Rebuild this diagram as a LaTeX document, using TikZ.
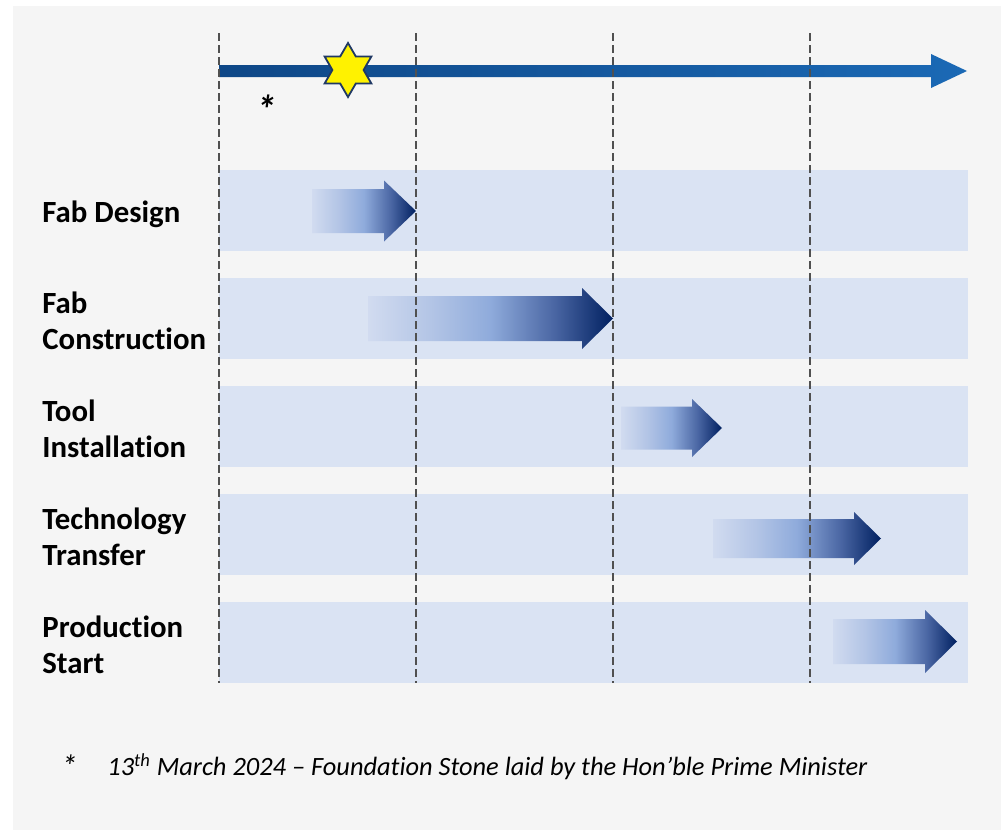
\documentclass[tikz,border=0pt]{standalone}
\usepackage{fontspec}
\setmainfont{Carlito}[Ligatures = NoCommon]
\usepackage{xcolor}
\usetikzlibrary{shapes.geometric}

\definecolor{panelgray}{HTML}{F5F5F5}
\definecolor{bandblue}{HTML}{DAE3F3}
\definecolor{tlleft}{HTML}{0E4787}
\definecolor{tlright}{HTML}{1B69B5}
\definecolor{starline}{HTML}{1F3864}
\definecolor{gridgray}{HTML}{505050}

\pgfdeclarehorizontalshading{phaseshade}{100bp}{rgb(0bp)=(0.84,0.87,0.94); rgb(25bp)=(0.82,0.86,0.94); rgb(38bp)=(0.70,0.77,0.90); rgb(50bp)=(0.56,0.67,0.86); rgb(63bp)=(0.29,0.40,0.64); rgb(75bp)=(0,0.125,0.376); rgb(100bp)=(0,0.125,0.376)}

\tikzset{
	gridline/.style = {gridgray, line width = 0.6pt, dash pattern = on 4pt off 2pt},
	rowlabel/.style = {anchor = west, inner sep = 0pt, align = left, font = \fontsize{15.4}{18}\selectfont\bfseries},
	notetext/.style = {anchor = base west, inner sep = 0pt, font = \fontsize{13.2}{15}\selectfont\itshape}
}

\begin{document}
\begin{tikzpicture}[x = 0.5pt, y = -0.5pt]
	\useasboundingbox (0,0) rectangle (1003,830);
	\fill[white] (0,0) rectangle (1003,830);
	\fill[panelgray] (13,6) rectangle (1001,830);
	
	% rows
	\foreach \y in {170, 278, 386, 494, 602}{
		\fill[bandblue] (219,\y) rectangle (968,\y+81);
	}
	
	\node[rowlabel] (design) at (42,214) {Fab Design};
	\node[rowlabel] (construction) at (42,321) {Fab\\Construction};
	\node[rowlabel] (tools) at (42,429) {Tool\\Installation};
	\node[rowlabel] (transfer) at (42,537) {Technology\\Transfer};
	\node[rowlabel] (production) at (42,645) {Production\\Start};
	
	% phase arrows
	\foreach \xs/\xb/\xt/\yc/\hs/\hh in {312/384/416/211/22/30.5, 368/582/613/318.5/22.5/30.5, 621/692/722/428/21.5/29, 713/854/881/538.5/19.5/26.5, 833/925/957/641.5/22.5/31.5}{
		\shade[shading = phaseshade] (\xs,\yc-\hs) -- (\xb,\yc-\hs) -- (\xb,\yc-\hh) -- (\xt,\yc) -- (\xb,\yc+\hh) -- (\xb,\yc+\hs) -- (\xs,\yc+\hs) -- cycle;
	}
	
	% timeline
	\shade[left color = tlleft, right color = tlright] (219,65) -- (931,65) -- (931,54) -- (967,71) -- (931,88) -- (931,77) -- (219,77) -- cycle;
	
	% year ticks
	\foreach \x in {219, 416, 613, 810}{
		\draw[gridline] (\x,33) -- (\x,683);
	}
	
	\node[star, star points = 6, star point ratio = 1.73, minimum size = 27pt, inner sep = 0pt, fill = yellow, draw = starline, line width = 0.9pt] (stone) at (348,70) {};
	\node[font = \fontsize{20}{22}\selectfont\bfseries\itshape] (mark) at (266,109) {*};
	
	% footnote
	\node[notetext, font = \fontsize{16}{18}\selectfont\itshape] (notemark) at (61,777) {*};
	\node[notetext] (note) at (107,775) {13\textsuperscript{th} March 2024 -- Foundation Stone laid by the Hon’ble Prime Minister};
	
\end{tikzpicture}
\end{document}
